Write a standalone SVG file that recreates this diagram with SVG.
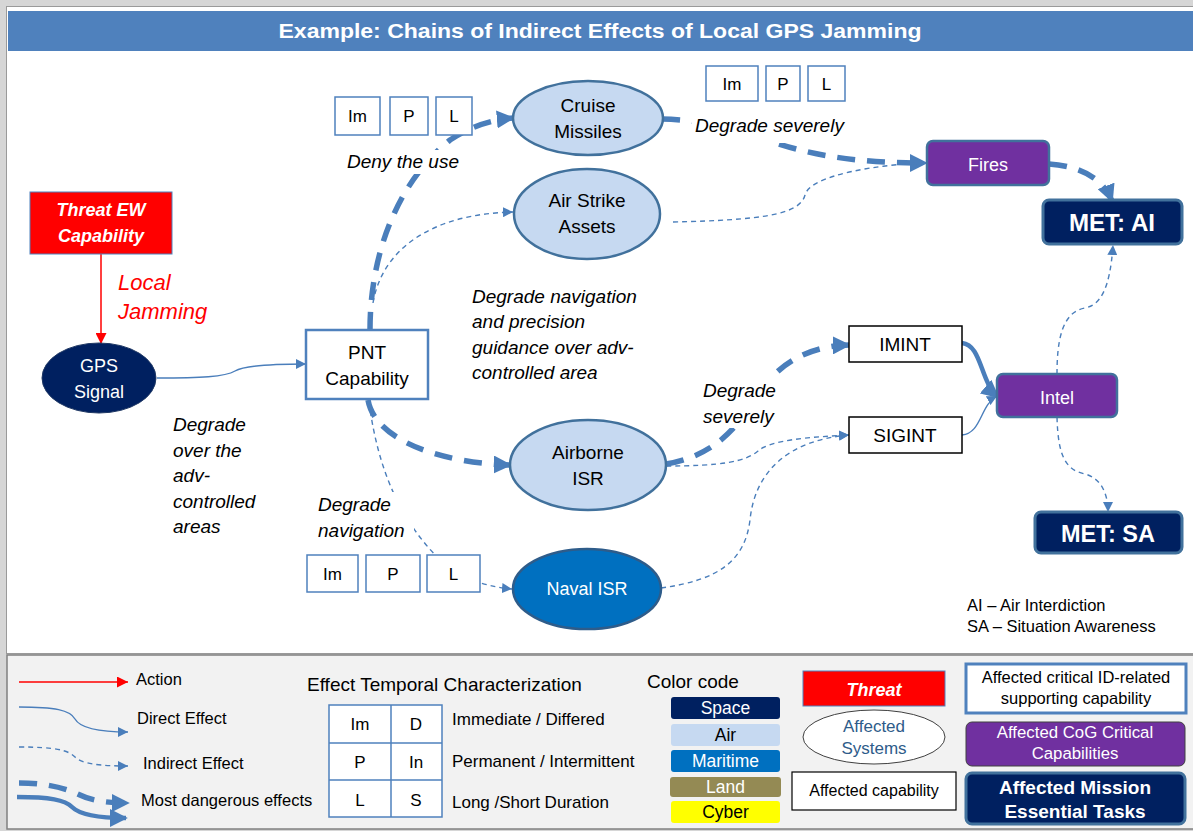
<svg xmlns="http://www.w3.org/2000/svg" width="1193" height="831" viewBox="0 0 1193 831">
<defs>
<style>
text{font-family:"Liberation Sans",Arial,sans-serif;}
.lbl{font-size:19px;font-style:italic;fill:#000;}
.nt{font-size:19px;text-anchor:middle;fill:#000;}
.wt{font-size:18px;text-anchor:middle;fill:#fff;}
.box{fill:#fff;stroke:#4f81bd;stroke-width:1.5;}
.bt{font-size:17px;text-anchor:middle;fill:#000;}
.air{fill:#c6d9f1;stroke:#41719c;stroke-width:2.5;}
.thin{fill:none;stroke:#4a7ebb;stroke-width:1.4;stroke-dasharray:5 4;}
.thick{fill:none;stroke:#4a7ebb;stroke-width:5.5;stroke-dasharray:18 12;}
.solid{fill:none;stroke:#4a7ebb;stroke-width:1.4;}
.solidT{fill:none;stroke:#4a7ebb;stroke-width:4.5;}
.lg{font-size:16.5px;fill:#000;}
.lt{font-size:17px;fill:#000;}
.sw{font-size:17.5px;text-anchor:middle;}
.mask{fill:#fff;}
</style>
<marker id="aR" viewBox="0 0 10 10" refX="10" refY="5" markerWidth="11" markerHeight="11" markerUnits="userSpaceOnUse" orient="auto"><path d="M0,0 L10,5 L0,10 z" fill="#ff0000"/></marker>
<marker id="aT" viewBox="0 0 10 10" refX="10" refY="5" markerWidth="10" markerHeight="10" markerUnits="userSpaceOnUse" orient="auto"><path d="M0,0 L10,5 L0,10 z" fill="#4a7ebb"/></marker>
<marker id="aK" viewBox="0 0 10 10" refX="9" refY="5" markerWidth="18" markerHeight="18" markerUnits="userSpaceOnUse" orient="auto"><path d="M0,0 L10,5 L0,10 z" fill="#4a7ebb"/></marker>
</defs>

<!-- background frame -->
<rect x="0" y="0" width="1193" height="831" fill="#d6d6d6"/>
<rect x="6.5" y="6.5" width="1190" height="647" fill="#fff" stroke="#9a9a9a" stroke-width="1"/>
<rect x="8" y="11" width="1185" height="40" fill="#4f81bd"/>
<text x="600" y="38" font-size="21" font-weight="bold" fill="#fff" text-anchor="middle" textLength="643" lengthAdjust="spacingAndGlyphs">Example: Chains of Indirect Effects of Local GPS Jamming</text>
<rect x="7" y="655" width="1188" height="174" fill="#f2f2f2" stroke="#808080" stroke-width="1.5"/>

<!-- connectors -->
<g id="connectors">
<path d="M101,254 L101,344" stroke="#ff0000" stroke-width="1.5" fill="none" marker-end="url(#aR)"/>
<path class="solid" d="M157,378 C200,378 225,377 235,371 C245,365 280,364 306,364" marker-end="url(#aT)"/>
<path class="thick" d="M370,330 C370,250 400,180 450,140 C470,127 490,120 513,118" marker-end="url(#aK)"/>
<path class="thin" d="M373,303 C382,250 430,214 513,212" marker-end="url(#aT)"/>
<path class="thick" d="M368,400 C375,440 440,463 510,465" marker-end="url(#aK)"/>
<path class="thin" d="M369,402 C378,470 400,520 440,560 C455,575 480,586 512,589" marker-end="url(#aT)"/>
<path class="thick" d="M662,119 C720,120 760,140 800,150 C840,160 880,163 926,163" marker-end="url(#aK)"/>
<path class="thin" d="M673,222 C760,220 800,215 805,195 C810,175 880,164 926,163" marker-end="url(#aT)"/>
<path class="thick" d="M1049,164 C1080,166 1103,178 1112,201" marker-end="url(#aK)"/>
<path class="thick" d="M666,464 C720,455 742,420 760,392 C780,362 810,346 849,345" marker-end="url(#aK)"/>
<path class="thin" d="M666,466 C720,466 745,462 758,451 C770,440 810,437 849,435" marker-end="url(#aT)"/>
<path class="thin" d="M661,588 C720,580 745,560 750,520 C755,470 790,440 849,435" marker-end="url(#aT)"/>
<path class="solidT" d="M962,343 C982,345 980,382 998,397" marker-end="url(#aK)"/>
<path class="solid" d="M962,435 C982,433 980,405 997,396" marker-end="url(#aT)"/>
<path class="thin" d="M1057,374 C1057,340 1062,312 1085,308 C1100,305 1110,290 1113,245" marker-end="url(#aT)"/>
<path class="thin" d="M1057,417 C1058,455 1065,470 1085,474 C1100,478 1108,492 1108,512" marker-end="url(#aT)"/>
</g>

<!-- nodes -->
<g id="threat">
<rect x="30" y="192" width="142" height="62" fill="#ff0000" stroke="#4f81bd" stroke-width="1"/>
<text x="101" y="216" class="wt" font-weight="bold" font-style="italic">Threat EW</text>
<text x="101" y="242" class="wt" font-weight="bold" font-style="italic">Capability</text>
</g>
<g id="lbl-jamming">
<text x="118" y="290" font-size="22" font-style="italic" fill="#ff0000">Local</text>
<text x="118" y="319" font-size="22" font-style="italic" fill="#ff0000">Jamming</text>
</g>
<g id="gps">
<ellipse cx="99" cy="378" rx="57" ry="35" fill="#002060" stroke="#1f3864" stroke-width="1"/>
<text x="99" y="372" class="wt" font-size="17">GPS</text>
<text x="99" y="398" class="wt" font-size="17">Signal</text>
</g>
<g id="lbl-degrade-over">
<text x="173" y="431" class="lbl">Degrade</text>
<text x="173" y="457" class="lbl">over the</text>
<text x="173" y="482" class="lbl">adv-</text>
<text x="173" y="508" class="lbl">controlled</text>
<text x="173" y="533" class="lbl">areas</text>
</g>
<g id="pnt">
<rect x="306" y="330" width="122" height="69" fill="#fff" stroke="#4f81bd" stroke-width="2.5"/>
<text x="367" y="359" class="nt">PNT</text>
<text x="367" y="385" class="nt">Capability</text>
</g>
<g id="cruise">
<ellipse cx="588" cy="118" rx="75" ry="37" class="air"/>
<text x="588" y="112" class="nt">Cruise</text>
<text x="588" y="138" class="nt">Missiles</text>
</g>
<g id="airstrike">
<ellipse cx="587" cy="214" rx="73" ry="45" class="air"/>
<text x="587" y="207" class="nt">Air Strike</text>
<text x="587" y="233" class="nt">Assets</text>
</g>
<g id="airborne">
<ellipse cx="588" cy="465" rx="78" ry="45" class="air"/>
<text x="588" y="459" class="nt">Airborne</text>
<text x="588" y="485" class="nt">ISR</text>
</g>
<g id="naval">
<ellipse cx="587" cy="589" rx="74" ry="40" fill="#0070c0" stroke="#2e5c8a" stroke-width="2.5"/>
<text x="587" y="595" class="wt">Naval ISR</text>
</g>
<g id="fires">
<rect x="927" y="141" width="122" height="44" rx="6" fill="#7030a0" stroke="#41719c" stroke-width="2.5"/>
<text x="988" y="171" class="wt" font-size="23">Fires</text>
</g>
<g id="met-ai">
<rect x="1043" y="200" width="139" height="44" rx="6" fill="#002060" stroke="#41719c" stroke-width="3"/>
<text x="1112" y="231" font-size="24" font-weight="bold" fill="#fff" text-anchor="middle" textLength="86" lengthAdjust="spacingAndGlyphs">MET: AI</text>
</g>
<g id="imint">
<rect x="849" y="326" width="113" height="36" fill="#fff" stroke="#000" stroke-width="1.5"/>
<text x="905" y="351" class="nt">IMINT</text>
</g>
<g id="sigint">
<rect x="849" y="417" width="113" height="36" fill="#fff" stroke="#000" stroke-width="1.5"/>
<text x="905" y="442" class="nt">SIGINT</text>
</g>
<g id="intel">
<rect x="997" y="374" width="120" height="43" rx="6" fill="#7030a0" stroke="#41719c" stroke-width="2.5"/>
<text x="1057" y="404" class="wt" font-size="22">Intel</text>
</g>
<g id="met-sa">
<rect x="1035" y="512" width="147" height="41" rx="6" fill="#002060" stroke="#41719c" stroke-width="3"/>
<text x="1108" y="542" font-size="24" font-weight="bold" fill="#fff" text-anchor="middle" textLength="94" lengthAdjust="spacingAndGlyphs">MET: SA</text>
</g>

<!-- labels -->
<g id="impl-1">
<rect x="335" y="97" width="45" height="38" class="box"/><text x="357.5" y="122" class="bt">Im</text>
<rect x="390" y="97" width="38" height="38" class="box"/><text x="409" y="122" class="bt">P</text>
<rect x="436" y="97" width="36" height="38" class="box"/><text x="454" y="122" class="bt">L</text>
</g>
<g id="lbl-deny">
<rect x="345" y="150" width="114" height="24" class="mask"/>
<text x="347" y="168" class="lbl" font-size="18.5">Deny the use</text>
</g>
<g id="impl-2">
<rect x="706" y="66" width="52" height="35" class="box"/><text x="732" y="90" class="bt">Im</text>
<rect x="766" y="66" width="34" height="35" class="box"/><text x="783" y="90" class="bt">P</text>
<rect x="808" y="66" width="37" height="35" class="box"/><text x="826.5" y="90" class="bt">L</text>
</g>
<g id="lbl-sev1">
<rect x="692" y="113" width="156" height="30" class="mask"/>
<text x="695" y="132" class="lbl" font-size="18.5">Degrade severely</text>
</g>
<g id="lbl-nav-prec">
<text x="472" y="303" class="lbl">Degrade navigation</text>
<text x="472" y="328" class="lbl">and precision</text>
<text x="472" y="354" class="lbl">guidance over adv-</text>
<text x="472" y="379" class="lbl">controlled area</text>
</g>
<g id="lbl-sev2">
<rect x="700" y="378" width="80" height="50" class="mask"/>
<text x="703" y="397" class="lbl">Degrade</text>
<text x="703" y="423" class="lbl">severely</text>
</g>
<g id="lbl-nav">
<rect x="314" y="492" width="100" height="52" class="mask"/>
<text x="318" y="511" class="lbl">Degrade</text>
<text x="318" y="537" class="lbl">navigation</text>
</g>
<g id="impl-3">
<rect x="307" y="555" width="51" height="37" class="box"/><text x="332.5" y="580" class="bt">Im</text>
<rect x="366" y="555" width="54" height="37" class="box"/><text x="393" y="580" class="bt">P</text>
<rect x="427" y="555" width="53" height="37" class="box"/><text x="453.5" y="580" class="bt">L</text>
</g>
<g id="abbrev">
<text x="967" y="611" font-size="16.5" fill="#000">AI – Air Interdiction</text>
<text x="967" y="632" font-size="16.5" fill="#000">SA – Situation  Awareness</text>
</g>

<!-- legend -->
<g id="legend-lines">
<path d="M19,682 L128,682" stroke="#ff0000" stroke-width="1.5" fill="none" marker-end="url(#aR)"/>
<text x="136" y="685" class="lg">Action</text>
<path class="solid" d="M19,707 C55,707 70,710 75,719 C80,728 100,732 128,732" marker-end="url(#aT)"/>
<text x="137" y="724" class="lg">Direct Effect</text>
<path class="thin" d="M19,747 C55,747 68,750 75,757 C82,764 100,766 128,766" marker-end="url(#aT)"/>
<text x="143" y="769" class="lg">Indirect  Effect</text>
<path class="thick" d="M19,783 C50,783 70,790 80,795 C90,800 105,803 128,803" stroke-dasharray="15 10" marker-end="url(#aK)"/>
<path class="solidT" d="M17,797 C50,797 65,800 72,807 C80,815 100,818 126,818" marker-end="url(#aK)"/>
<text x="141" y="806" class="lg">Most dangerous effects</text>
</g>
<g id="legend-temporal">
<text x="307" y="691" font-size="19" fill="#000">Effect Temporal  Characterization</text>
<rect x="329" y="705" width="113" height="112" fill="#fff" stroke="#4f81bd" stroke-width="1.5"/>
<path d="M391,705 V817 M329,743 H442 M329,780 H442" stroke="#4f81bd" stroke-width="1.5" fill="none"/>
<text x="360" y="730" class="bt">Im</text><text x="416" y="730" class="bt">D</text>
<text x="360" y="768" class="bt">P</text><text x="416" y="768" class="bt">In</text>
<text x="360" y="806" class="bt">L</text><text x="416" y="806" class="bt">S</text>
<text x="452" y="725" class="lt">Immediate / Differed</text>
<text x="452" y="767" class="lt">Permanent / Intermittent</text>
<text x="452" y="808" class="lt">Long /Short Duration</text>
</g>
<g id="legend-colors">
<text x="647" y="688" font-size="19" fill="#000">Color code</text>
<rect x="671" y="697" width="109" height="22" rx="3" fill="#002060"/><text x="725.5" y="714" class="sw" fill="#fff">Space</text>
<rect x="671" y="724" width="109" height="22" rx="3" fill="#c6d9f1"/><text x="725.5" y="741" class="sw" fill="#000">Air</text>
<rect x="671" y="750" width="109" height="22" rx="3" fill="#0070c0"/><text x="725.5" y="767" class="sw" fill="#fff">Maritime</text>
<rect x="670" y="777" width="111" height="20" rx="3" fill="#948a54"/><text x="725.5" y="793" class="sw" fill="#fff">Land</text>
<rect x="671" y="801" width="109" height="22" rx="3" fill="#ffff00"/><text x="725.5" y="818" class="sw" fill="#000">Cyber</text>
</g>
<g id="legend-types">
<rect x="803" y="671" width="142" height="35" fill="#ff0000" stroke="#4f81bd" stroke-width="1"/>
<text x="874" y="696" font-size="18" font-weight="bold" font-style="italic" text-anchor="middle" fill="#fff">Threat</text>
<ellipse cx="874" cy="737" rx="71" ry="27" fill="#fff" stroke="#404040" stroke-width="1"/>
<text x="874" y="732" font-size="17" text-anchor="middle" fill="#2e5c8a">Affected</text>
<text x="874" y="754" font-size="17" text-anchor="middle" fill="#2e5c8a">Systems</text>
<rect x="792" y="772" width="164" height="38" fill="#fff" stroke="#000" stroke-width="1.2"/>
<text x="874" y="796" font-size="16" text-anchor="middle" fill="#000">Affected capability</text>
<rect x="966" y="664" width="220" height="49" fill="#fff" stroke="#4f81bd" stroke-width="3"/>
<text x="1076" y="683" font-size="16.5" text-anchor="middle" fill="#000">Affected critical ID-related</text>
<text x="1076" y="704" font-size="16.5" text-anchor="middle" fill="#000">supporting  capability</text>
<rect x="966" y="722" width="219" height="44" rx="6" fill="#7030a0" stroke="#404040" stroke-width="1"/>
<text x="1075" y="738" font-size="16.8" text-anchor="middle" fill="#fff">Affected CoG Critical</text>
<text x="1075" y="759" font-size="16.8" text-anchor="middle" fill="#fff">Capabilities</text>
<rect x="966" y="773" width="219" height="51" rx="6" fill="#002060" stroke="#41719c" stroke-width="3"/>
<text x="1075" y="794" font-size="19" font-weight="bold" text-anchor="middle" fill="#fff">Affected Mission</text>
<text x="1075" y="818" font-size="19" font-weight="bold" text-anchor="middle" fill="#fff">Essential Tasks</text>
</g>
</svg>
